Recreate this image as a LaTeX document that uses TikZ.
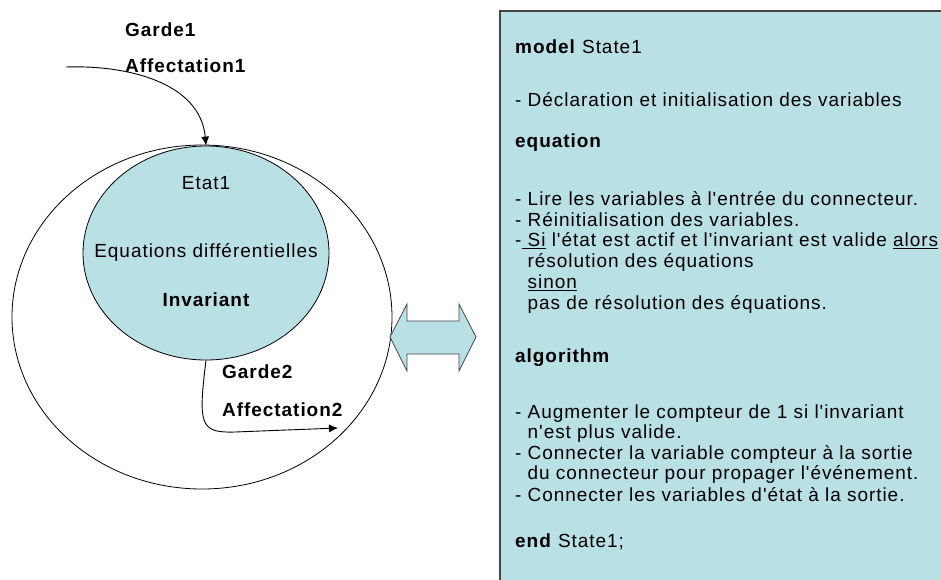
\documentclass[tikz,border=0pt]{standalone}
\usepackage{fontspec}
\setmainfont{Liberation Sans}[LetterSpace=5, Ligatures=TeXOff]
\usetikzlibrary{shapes.geometric,arrows.meta}

\definecolor{statefill}{RGB}{185,224,228}
\definecolor{edgegray}{RGB}{70,70,70}

\tikzset{
  stateline/.style={draw=black, line width=0.8pt},
  trans/.style={line width=0.9pt, -{Latex[length=9pt,width=8pt]}},
  lbl/.style={inner sep=0pt, font=\fontsize{19}{21}\selectfont},
  codeline/.style={lbl, anchor=west},
}

\begin{document}
\begin{tikzpicture}[x=1pt, y=-1pt]
    \clip (0,0) rectangle (941,579);
    \fill[white] (0,0) rectangle (941,579);

    % State with its transitions
    \begin{scope}
        \node[stateline, ellipse, minimum width=380pt, minimum height=344pt, inner sep=0pt] (outer) at (202,317) {};
        \node[stateline, fill=statefill, ellipse, minimum width=246pt, minimum height=214pt, inner sep=0pt] (etat) at (206,253) {};
        \node[lbl] (etatname) at (206,183) {Etat1};
        \node[lbl] (eqdiff) at (206,252) {Equations différentielles};
        \node[lbl, font=\fontsize{19}{21}\selectfont\bfseries] (inv) at (206,300) {Invariant};

        \coordinate (in1) at (66,67);
        \node[lbl, anchor=west, font=\fontsize{19}{21}\selectfont\bfseries] (garde1) at (125,30) {Garde1};
        \node[lbl, anchor=west, font=\fontsize{19}{21}\selectfont\bfseries] (affect1) at (125,66) {Affectation1};
        \draw[trans] (in1) to[out=2, in=95] (etat.north);

        \coordinate (out2) at (338,428);
        \node[lbl, anchor=west, font=\fontsize{19}{21}\selectfont\bfseries] (garde2) at (222,372) {Garde2};
        \node[lbl, anchor=west, font=\fontsize{19}{21}\selectfont\bfseries] (affect2) at (222,410) {Affectation2};
        \draw[trans] (etat.south) .. controls (198,425) and (200,433) .. (235,432) -- (out2);
    \end{scope}

    % Correspondence
    \draw[edgegray, line width=0.8pt, fill=statefill]
        (390,337) -- (407,304) -- (407,321) -- (459,321) -- (459,304) -- (476,337)
        -- (459,371) -- (459,354) -- (407,354) -- (407,371) -- cycle;

    % Modelica code
    \begin{scope}
        \draw[edgegray, line width=1.2pt, fill=statefill] (500,11) rectangle (990,620);
        \node[codeline] (l1) at (515,47) {\textbf{model} State1};
        \node[codeline] (l2) at (515,100) {- Déclaration et initialisation des variables};
        \node[codeline] (l3) at (515,143) {\textbf{equation}};
        \node[codeline] (l4) at (515,199) {- Lire les variables à l'entrée du connecteur.};
        \node[codeline] (l5) at (515,220) {- Réinitialisation des variables.};
        \node[codeline] (l6) at (515,241) {-\underline{ Si} l'état est actif et l'invariant est valide \underline{alors}};
        \node[codeline] (l7) at (515,262) {\ \ résolution des équations};
        \node[codeline] (l8) at (515,283) {\ \ \underline{sinon}};
        \node[codeline] (l9) at (515,304) {\ \ pas de résolution des équations.};
        \node[codeline] (l10) at (515,358) {\textbf{algorithm}};
        \node[codeline] (l11) at (515,414) {- Augmenter le compteur de 1 si l'invariant};
        \node[codeline] (l12) at (515,434) {\ \ n'est plus valide.};
        \node[codeline] (l13) at (515,454) {- Connecter la variable compteur à la sortie};
        \node[codeline] (l14) at (515,474) {\ \ du connecteur pour propager l'événement.};
        \node[codeline] (l15) at (515,495) {- Connecter les variables d'état à la sortie.};
        \node[codeline] (l16) at (515,542) {\textbf{end} State1;};
    \end{scope}
\end{tikzpicture}
\end{document}
